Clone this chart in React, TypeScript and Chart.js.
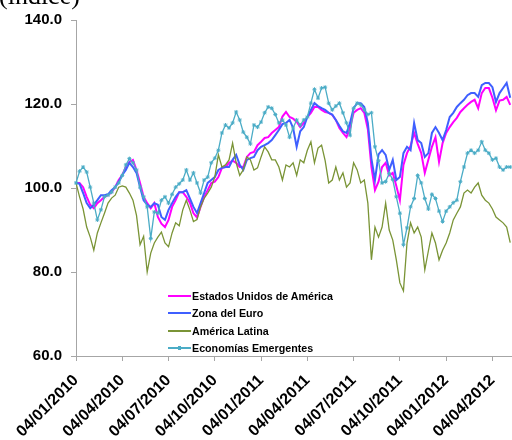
import React, { useEffect, useRef } from 'react';
import { Chart, registerables } from 'chart.js';

Chart.register(...registerables);

// one tick label per quarter, the data are weekly (13 weeks per quarter)
const tickLabels = [
  '04/01/2010', '04/04/2010', '04/07/2010', '04/10/2010', '04/01/2011',
  '04/04/2011', '04/07/2011', '04/10/2011', '04/01/2012', '04/04/2012',
];
const weeksPerTick = 13;

const estadosUnidos = [
  101.2, 101.2, 100.2, 97.9, 96.0, 95.2, 96.4, 97.1, 97.9, 98.3,
  99.0, 100.2, 101.9, 103.1, 105.0, 106.2, 106.7, 104.3, 101.2, 97.9,
  96.4, 95.2, 96.4, 93.1, 91.5, 90.7, 92.4, 95.5, 97.1, 99.0,
  99.0, 97.9, 96.5, 94.0, 93.0, 95.5, 97.9, 99.5, 101.2, 101.5,
  102.6, 104.8, 105.0, 106.0, 106.5, 106.0, 105.0, 105.0, 107.4, 108.3,
  108.6, 110.2, 111.0, 111.9, 112.1, 113.1, 113.8, 114.5, 117.0, 118.1,
  116.9, 116.5, 115.8, 114.5, 115.5, 116.9, 117.9, 119.3, 119.3, 118.6,
  118.1, 117.9, 117.4, 116.2, 114.3, 113.1, 112.1, 114.3, 117.9, 118.6,
  119.0, 117.9, 114.0, 105.0, 99.5, 101.5, 105.0, 106.0, 103.0, 103.6,
  100.5, 97.1, 105.5, 108.3, 110.0, 113.1, 110.5, 108.3, 103.6, 106.7,
  109.8, 112.1, 106.2, 110.7, 113.1, 114.5, 115.7, 116.7, 118.1, 119.0,
  119.8, 120.5, 121.0, 119.0, 122.6, 123.8, 123.8, 121.5, 118.5, 120.8,
  121.0, 121.7, 119.8,
];

const zonaEuro = [
  101.2, 101.0, 98.8, 96.4, 95.2, 96.0, 97.1, 98.3, 98.3, 98.5,
  99.5, 100.2, 101.4, 103.1, 104.3, 106.0, 105.0, 103.6, 100.2, 97.1,
  96.0, 95.5, 96.4, 96.0, 93.1, 92.4, 94.8, 96.4, 97.9, 99.0,
  99.0, 99.5, 97.5, 95.5, 94.0, 96.4, 98.8, 101.2, 101.9, 102.6,
  104.3, 104.8, 105.0, 105.0, 106.7, 107.9, 105.5, 104.3, 106.7, 107.1,
  107.4, 109.0, 109.8, 110.2, 110.7, 111.4, 112.6, 113.8, 115.2, 115.5,
  116.2, 114.3, 109.8, 113.5, 114.5, 116.9, 118.6, 120.2, 119.5, 119.0,
  118.6, 117.9, 117.5, 116.2, 114.8, 113.5, 113.1, 115.5, 119.0, 120.2,
  120.2, 119.3, 115.5, 107.0, 101.9, 108.0, 109.0, 107.9, 104.3, 106.7,
  101.9, 102.6, 108.3, 109.8, 109.0, 115.5, 111.4, 110.7, 107.4, 108.3,
  113.1, 114.5, 113.1, 111.4, 113.8, 116.9, 117.9, 119.3, 120.2, 121.0,
  122.1, 122.6, 122.6, 121.7, 124.5, 125.0, 125.0, 124.0, 120.5, 122.6,
  123.8, 125.0, 121.5,
];

const americaLatina = [
  101.2, 97.9, 95.0, 90.7, 88.3, 85.2, 89.3, 91.7, 94.0, 96.4,
  97.6, 98.3, 100.2, 100.5, 100.2, 98.8, 97.1, 93.5, 86.5, 88.5,
  80.0, 84.5, 86.9, 88.3, 89.5, 86.9, 86.0, 89.3, 91.7, 91.0,
  94.8, 97.1, 94.8, 92.0, 92.5, 95.5, 97.5, 98.8, 100.2, 102.6,
  107.9, 105.0, 105.5, 106.7, 110.7, 106.0, 103.0, 104.3, 107.4, 106.7,
  104.3, 104.8, 107.4, 109.8, 108.6, 106.7, 106.7, 105.0, 101.9, 105.5,
  105.0, 106.0, 103.0, 106.7, 106.0, 109.0, 111.0, 106.0, 109.5, 110.2,
  106.5, 101.2, 101.9, 105.0, 101.9, 103.6, 100.2, 101.2, 106.0, 104.3,
  101.2, 101.9, 96.4, 82.9, 90.7, 88.3, 90.7, 96.4, 90.0, 87.6,
  82.9, 77.4, 75.5, 86.9, 91.7, 89.3, 90.7, 88.3, 80.5, 85.0,
  89.3, 86.9, 82.9, 85.2, 86.9, 89.3, 92.4, 94.0, 95.5, 98.8,
  99.5, 98.8, 100.2, 101.2, 98.3, 97.1, 96.4, 95.0, 93.1, 92.4,
  91.7, 90.7, 87.0,
];

const economiasEmergentes = [
  101.2, 104.0, 105.0, 103.8, 100.2, 96.4, 92.4, 94.8, 97.9, 98.3,
  99.0, 100.2, 101.2, 103.0, 105.5, 107.0, 106.0, 104.3, 100.2, 97.9,
  95.5, 88.0, 94.3, 94.0, 97.1, 97.9, 96.4, 98.5, 100.2, 101.0,
  101.9, 104.3, 101.9, 103.6, 101.2, 98.8, 101.9, 102.6, 106.0, 107.1,
  109.0, 113.1, 115.0, 114.3, 115.5, 118.1, 116.2, 113.3, 112.1, 110.5,
  115.0, 114.5, 115.7, 117.9, 119.3, 119.0, 117.5, 115.5, 116.2, 115.0,
  112.1, 114.3, 116.2, 115.0, 116.2, 116.9, 120.2, 123.5, 121.4, 123.8,
  124.0, 120.2, 118.6, 119.5, 120.2, 117.9, 115.5, 112.6, 119.0, 120.2,
  119.8, 118.6, 117.5, 117.9, 109.8, 106.5, 101.2, 101.5, 103.5, 102.0,
  97.9, 94.0, 86.5, 90.5, 95.5, 97.5, 103.0, 101.2, 97.5, 95.0,
  98.5, 97.5, 94.5, 92.0, 94.5, 95.5, 96.5, 97.1, 101.5, 105.0,
  108.3, 109.0, 108.3, 109.0, 111.0, 109.0, 108.3, 106.7, 107.1, 105.0,
  104.3, 105.0, 105.0,
];

const FONT = '"Liberation Sans", Arial, sans-serif';
const AXIS_GREY = '#A6A6A6';

const series = [
  { label: 'Estados Unidos de América', data: estadosUnidos, color: '#FF00FF', width: 2, marker: false },
  { label: 'Zona del Euro', data: zonaEuro, color: '#3F5FFF', width: 2, marker: false },
  { label: 'América Latina', data: americaLatina, color: '#7A9436', width: 1.3, marker: false },
  { label: 'Economías Emergentes', data: economiasEmergentes, color: '#4BACC6', width: 1.3, marker: true },
];

const App: React.FC = () => {
  const canvasRef = useRef<HTMLCanvasElement | null>(null);

  useEffect(() => {
    if (!canvasRef.current) return;
    const chart = new Chart(canvasRef.current, {
      type: 'line',
      data: {
        datasets: series.map((s, i) => ({
          label: s.label,
          data: s.data.map((v, w) => ({ x: w, y: v })),
          borderColor: s.color,
          backgroundColor: s.color,
          borderWidth: s.width,
          pointRadius: s.marker ? 2 : 0,
          pointStyle: 'star',
          pointBorderWidth: 1,
          pointBorderColor: s.color,
          tension: 0,
          clip: false,
          // Excel draws later series on top
          order: series.length - i,
        })),
      },
      options: {
        animation: false,
        responsive: true,
        maintainAspectRatio: false,
        layout: { autoPadding: false, padding: { top: 20, right: 0, bottom: 0, left: 0 } },
        plugins: { legend: { display: false }, tooltip: { enabled: false } },
        scales: {
          x: {
            type: 'linear',
            min: 0,
            max: 122.5,
            afterBuildTicks: (scale: any) => {
              scale.ticks = tickLabels.map((_, i) => ({ value: i * weeksPerTick }));
            },
            afterFit: (scale: any) => {
              scale.height = 84;
              scale.paddingRight = 0;
              scale.paddingLeft = 0;
            },
            ticks: {
              autoSkip: false,
              minRotation: 45,
              maxRotation: 45,
              padding: 10,
              color: '#000',
              font: { family: FONT, size: 16, weight: 'bold' },
              callback: (_v: any, i: number) => tickLabels[i],
            },
            grid: { drawOnChartArea: false, drawTicks: true, tickLength: 5, color: AXIS_GREY },
            border: { color: AXIS_GREY },
          },
          y: {
            min: 60,
            max: 140,
            afterFit: (scale: any) => {
              scale.width = 76;
            },
            ticks: {
              stepSize: 20,
              padding: 9,
              color: '#000',
              font: { family: FONT, size: 15, weight: 'bold' },
              callback: (v: any) => Number(v).toFixed(1),
            },
            grid: { drawOnChartArea: false, drawTicks: true, tickLength: 5, color: AXIS_GREY },
            border: { color: AXIS_GREY },
          },
        },
      },
    });
    return () => {
      chart.destroy();
    };
  }, []);

  return (
    <div style={{ position: 'absolute', left: 0, top: 0, width: 512, height: 440, overflow: 'hidden', background: '#fff' }}>
      <canvas ref={canvasRef} />
      <div
        style={{
          position: 'absolute', left: -1, top: -17, fontFamily: '"Liberation Serif", "Times New Roman", serif',
          fontSize: 26, lineHeight: '26px', whiteSpace: 'nowrap',
        }}
      >
        (índice)
      </div>
      <div style={{ position: 'absolute', left: 168, top: 287, fontFamily: FONT, fontSize: 10.7, fontWeight: 'bold' }}>
        {series.map((s) => (
          <div key={s.label} style={{ display: 'flex', alignItems: 'center', height: 17.5 }}>
            <span style={{ position: 'relative', display: 'inline-block', width: 23, height: 2, background: s.color }}>
              {s.marker && (
                <span style={{ position: 'absolute', left: 10, top: -1, width: 3, height: 4, background: s.color }} />
              )}
            </span>
            <span style={{ marginLeft: 1 }}>{s.label}</span>
          </div>
        ))}
      </div>
    </div>
  );
};

export default App;
